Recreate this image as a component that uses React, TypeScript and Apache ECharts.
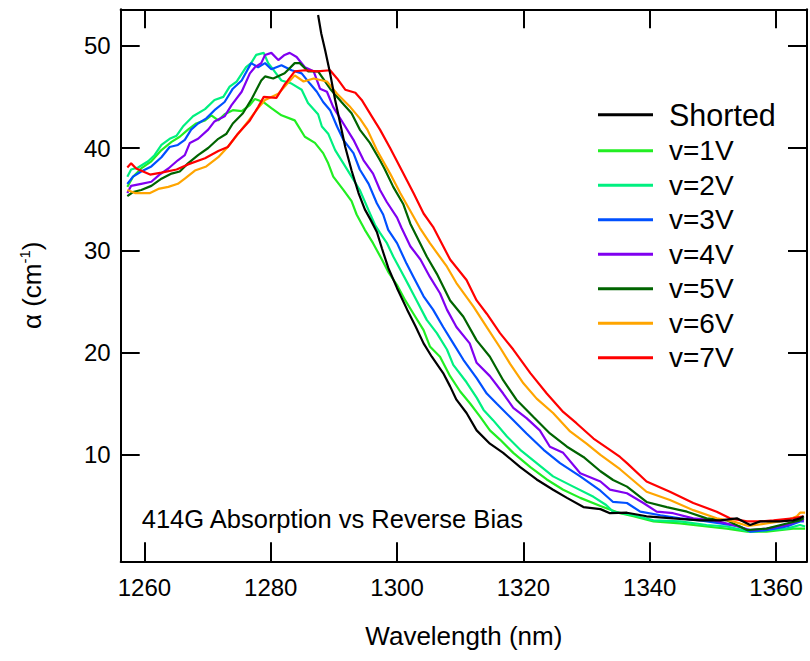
import React, { useEffect, useRef } from "react";
import * as echarts from "echarts";

const FONT = "'Liberation Sans', Arial, Helvetica, sans-serif";

const seriesNames = ["Shorted", "v=1V", "v=2V", "v=3V", "v=4V", "v=5V", "v=6V", "v=7V"];
const seriesColors = ["#000000", "#22ee22", "#00f080", "#0050ff", "#8000f0", "#006400", "#ffa500", "#ff0000"];

const xTicks = [1260, 1280, 1300, 1320, 1340, 1360];
const yTicks = [10, 20, 30, 40, 50];

const shorted: [number, number][] = [
  [1287.5, 53.0], [1288.0, 51.2], [1288.6, 49.6], [1289.4, 47.3], [1290.2, 44.7], [1291.0, 42.4],
  [1291.8, 40.1], [1292.8, 37.8], [1293.9, 35.6], [1294.9, 34.0], [1295.8, 33.0], [1296.8, 31.8],
  [1297.6, 30.2], [1298.6, 28.3], [1300.0, 26.3], [1301.6, 24.2], [1302.9, 22.6], [1304.2, 20.9],
  [1305.5, 19.6], [1307.3, 18.0], [1308.4, 16.7], [1309.4, 15.4], [1311.0, 14.1], [1312.6, 12.4],
  [1314.7, 11.1], [1316.8, 10.2], [1319.5, 8.8], [1322.1, 7.6], [1324.7, 6.6], [1326.9, 5.8],
  [1329.5, 4.9], [1332.2, 4.7], [1333.7, 4.3], [1336.4, 4.35], [1339.5, 4.0], [1343.7, 3.8],
  [1348.0, 3.6], [1351.2, 3.6], [1353.8, 3.8], [1354.8, 3.5], [1355.9, 3.15], [1357.5, 3.5],
  [1360.6, 3.5], [1362.7, 3.6], [1363.8, 3.8], [1364.4, 4.0],
];

const v1: [number, number][] = [
  [1257.3, 36.2], [1258.2, 37.2], [1259.5, 38.0], [1261.1, 38.7], [1262.7, 39.8], [1264.3, 40.6],
  [1265.6, 41.1], [1266.9, 41.8], [1268.2, 42.4], [1269.6, 42.7], [1270.6, 43.2], [1271.7, 42.7],
  [1272.7, 43.3], [1274.0, 43.7], [1275.4, 43.6], [1276.7, 44.2], [1277.5, 44.8], [1278.8, 44.5],
  [1280.1, 43.9], [1281.7, 43.2], [1283.8, 42.7], [1285.4, 41.1], [1287.0, 40.5], [1288.3, 39.5],
  [1289.1, 38.5], [1289.9, 37.2], [1291.5, 35.9], [1292.8, 34.8], [1293.6, 33.5], [1294.9, 32.0],
  [1296.2, 30.7], [1297.6, 29.1], [1298.6, 27.9], [1300.0, 26.6], [1301.3, 25.1], [1302.6, 23.8],
  [1304.2, 22.2], [1305.2, 20.6], [1306.8, 19.6], [1308.4, 17.7], [1310.0, 16.2], [1311.6, 15.0],
  [1313.2, 13.7], [1314.7, 12.4], [1316.3, 11.5], [1318.4, 10.2], [1321.1, 8.8], [1323.7, 7.6],
  [1326.3, 6.6], [1329.0, 5.8], [1332.2, 5.0], [1335.3, 4.3], [1337.4, 4.0], [1340.6, 3.5],
  [1344.8, 3.3], [1349.0, 3.0], [1352.2, 2.8], [1355.4, 2.5], [1358.5, 2.5], [1360.6, 2.65],
  [1362.7, 2.8], [1364.6, 2.8],
];

const v2: [number, number][] = [
  [1257.3, 37.2], [1257.9, 37.9], [1259.0, 38.1], [1260.6, 38.7], [1261.6, 39.3], [1262.7, 40.3],
  [1264.0, 40.9], [1265.1, 41.2], [1266.1, 42.1], [1267.7, 43.1], [1269.6, 43.8], [1271.1, 44.7],
  [1272.5, 45.0], [1273.5, 46.0], [1274.6, 46.5], [1276.1, 47.9], [1276.9, 48.3], [1277.7, 49.1],
  [1278.9, 49.3], [1279.6, 48.3], [1280.6, 47.5], [1281.7, 46.6], [1283.3, 46.3], [1284.9, 45.7],
  [1285.9, 44.4], [1287.5, 43.3], [1288.1, 42.1], [1289.1, 41.4], [1290.2, 39.8], [1291.5, 38.5],
  [1292.8, 37.2], [1294.1, 35.9], [1295.5, 33.9], [1296.5, 32.5], [1297.3, 31.7], [1298.4, 30.7],
  [1299.4, 29.4], [1300.7, 27.9], [1302.0, 26.4], [1303.1, 25.1], [1304.7, 23.2], [1306.3, 21.9],
  [1307.9, 20.3], [1308.9, 18.8], [1311.0, 17.1], [1312.6, 15.6], [1313.7, 14.4], [1315.2, 13.4],
  [1317.4, 11.8], [1319.5, 10.5], [1322.1, 9.2], [1324.7, 7.9], [1327.9, 6.9], [1331.1, 5.9],
  [1333.1, 5.1], [1334.2, 4.45], [1337.4, 4.1], [1340.6, 3.6], [1344.8, 3.5], [1349.0, 3.15],
  [1352.2, 3.0], [1355.9, 2.5], [1358.5, 2.65], [1361.7, 2.8], [1363.8, 3.15], [1364.6, 3.0],
];

const v3: [number, number][] = [
  [1257.3, 36.5], [1258.2, 37.2], [1259.5, 37.7], [1261.1, 38.2], [1262.7, 39.1], [1264.0, 40.1],
  [1265.3, 40.3], [1266.4, 40.8], [1267.4, 41.8], [1268.5, 42.4], [1269.8, 42.9], [1271.1, 43.7],
  [1272.7, 44.5], [1274.0, 45.8], [1275.4, 46.6], [1276.9, 48.3], [1278.0, 47.9], [1279.1, 48.3],
  [1280.1, 47.7], [1281.7, 48.1], [1283.3, 47.6], [1284.9, 47.3], [1286.2, 46.3], [1287.3, 45.5],
  [1288.3, 44.5], [1289.4, 43.7], [1290.5, 42.1], [1291.5, 40.8], [1293.1, 39.5], [1294.1, 37.9],
  [1295.5, 36.5], [1296.8, 34.6], [1297.8, 33.5], [1298.6, 32.0], [1300.0, 30.7], [1301.5, 28.7],
  [1302.6, 27.4], [1304.2, 25.5], [1305.7, 24.2], [1307.3, 22.5], [1308.9, 20.9], [1310.5, 19.3],
  [1312.6, 17.5], [1314.2, 16.0], [1315.8, 15.0], [1317.9, 13.7], [1320.5, 12.1], [1323.2, 10.5],
  [1325.8, 9.2], [1329.0, 7.9], [1332.2, 6.5], [1334.2, 5.4], [1336.4, 5.3], [1338.5, 4.45],
  [1341.7, 4.1], [1344.8, 3.8], [1348.0, 3.6], [1351.2, 3.3], [1354.3, 3.0], [1355.9, 2.5],
  [1358.5, 2.65], [1361.7, 3.0], [1363.8, 3.5], [1364.4, 3.5],
];

const v4: [number, number][] = [
  [1257.3, 35.6], [1257.9, 36.3], [1259.5, 36.5], [1261.1, 36.7], [1262.4, 37.4], [1263.8, 38.0],
  [1265.3, 38.8], [1266.4, 39.3], [1267.2, 40.5], [1268.5, 40.9], [1270.1, 41.8], [1271.1, 42.6],
  [1272.7, 43.1], [1273.8, 44.2], [1275.4, 45.5], [1276.7, 47.3], [1277.5, 47.9], [1278.5, 48.3],
  [1279.1, 49.1], [1280.1, 49.3], [1281.2, 48.6], [1282.2, 49.1], [1283.0, 49.3], [1284.1, 48.9],
  [1285.4, 47.9], [1286.8, 47.5], [1287.8, 45.8], [1288.9, 45.5], [1289.9, 44.0], [1291.5, 42.4],
  [1293.1, 40.8], [1294.7, 38.8], [1296.2, 37.5], [1297.3, 35.9], [1298.4, 34.7], [1300.0, 33.2],
  [1300.7, 32.2], [1302.1, 30.4], [1303.7, 29.1], [1305.2, 27.4], [1306.8, 25.8], [1307.9, 24.2],
  [1309.4, 22.5], [1311.5, 20.9], [1312.6, 19.0], [1314.7, 17.7], [1316.8, 16.0], [1318.4, 14.6],
  [1320.5, 13.6], [1322.6, 12.4], [1324.2, 10.8], [1326.3, 10.2], [1329.0, 8.2], [1332.2, 7.4],
  [1333.7, 6.6], [1336.4, 6.25], [1339.0, 5.3], [1341.1, 4.45], [1343.7, 4.3], [1346.9, 3.8],
  [1350.1, 3.6], [1353.2, 3.15], [1355.9, 2.65], [1358.5, 2.8], [1361.7, 3.15], [1363.8, 3.6],
  [1364.4, 3.6],
];

const v5: [number, number][] = [
  [1257.3, 35.3], [1258.2, 35.7], [1259.5, 35.9], [1261.1, 36.3], [1262.7, 37.0], [1264.3, 37.5],
  [1265.6, 37.7], [1266.9, 38.5], [1268.5, 39.3], [1270.1, 40.0], [1271.7, 40.9], [1273.0, 41.4],
  [1274.0, 42.4], [1275.6, 43.4], [1276.9, 44.7], [1278.5, 46.6], [1279.1, 47.0], [1280.4, 46.8],
  [1282.2, 47.3], [1283.8, 48.3], [1284.6, 48.3], [1285.9, 47.5], [1287.5, 47.5], [1289.4, 45.8],
  [1291.2, 44.5], [1292.8, 43.4], [1294.1, 41.8], [1295.7, 40.5], [1297.3, 38.8], [1298.0, 38.0],
  [1299.4, 36.2], [1301.0, 34.5], [1302.1, 32.6], [1304.7, 29.4], [1306.3, 27.7], [1308.4, 25.1],
  [1310.5, 23.5], [1312.6, 21.2], [1314.7, 19.6], [1316.8, 17.3], [1318.9, 15.4], [1321.6, 13.7],
  [1324.2, 12.1], [1326.9, 10.8], [1329.5, 9.8], [1332.2, 8.4], [1334.2, 7.55], [1336.4, 6.9],
  [1339.5, 5.4], [1342.7, 4.9], [1345.9, 4.45], [1349.0, 3.8], [1352.2, 3.6], [1355.4, 2.65],
  [1358.5, 2.8], [1361.7, 3.3], [1363.8, 3.6], [1364.4, 3.8],
];

const v6: [number, number][] = [
  [1257.3, 35.9], [1258.5, 35.6], [1260.9, 35.6], [1262.2, 36.0], [1263.8, 36.2], [1265.3, 36.5],
  [1266.4, 37.0], [1268.0, 37.8], [1269.8, 38.2], [1271.7, 39.1], [1273.2, 40.1], [1276.4, 42.6],
  [1278.0, 43.9], [1279.1, 44.7], [1281.2, 45.3], [1283.8, 47.1], [1285.2, 46.5], [1286.8, 46.8],
  [1288.9, 46.5], [1290.5, 45.3], [1292.6, 44.0], [1294.1, 42.9], [1295.3, 41.8], [1296.8, 39.8],
  [1298.9, 37.5], [1300.5, 35.6], [1302.6, 33.3], [1303.6, 32.2], [1305.2, 30.7], [1307.9, 28.4],
  [1309.4, 26.8], [1312.1, 24.5], [1314.2, 22.5], [1316.3, 20.5], [1317.9, 18.9], [1320.0, 17.0],
  [1322.1, 15.5], [1324.7, 14.1], [1327.4, 12.3], [1330.0, 11.1], [1332.2, 10.0], [1335.3, 8.6],
  [1339.5, 6.4], [1343.2, 5.6], [1346.9, 4.6], [1350.6, 3.8], [1353.2, 3.5], [1355.6, 3.05],
  [1358.5, 3.3], [1361.7, 3.6], [1363.3, 4.0], [1363.8, 4.35], [1364.6, 4.35],
];

const v7: [number, number][] = [
  [1257.3, 38.1], [1257.9, 38.5], [1258.7, 38.0], [1260.9, 37.4], [1262.7, 37.6], [1265.1, 37.9],
  [1266.9, 38.4], [1269.6, 39.0], [1271.7, 39.7], [1273.2, 40.1], [1274.8, 41.4], [1276.7, 42.7],
  [1278.0, 44.0], [1278.9, 45.0], [1280.9, 44.9], [1282.2, 46.2], [1283.8, 47.5], [1285.4, 47.6],
  [1287.3, 47.5], [1289.4, 47.6], [1290.5, 46.8], [1291.8, 45.7], [1293.4, 45.4], [1294.4, 44.7],
  [1296.0, 43.1], [1297.3, 41.8], [1298.9, 40.0], [1301.0, 37.5], [1302.6, 35.6], [1304.2, 33.6],
  [1305.7, 32.3], [1308.4, 29.1], [1311.0, 27.1], [1312.6, 25.1], [1314.2, 23.8], [1316.3, 21.9],
  [1318.4, 20.3], [1321.1, 18.0], [1323.7, 16.0], [1326.3, 14.2], [1328.4, 13.1], [1331.1, 11.6],
  [1333.7, 10.5], [1335.3, 9.8], [1336.4, 9.2], [1339.5, 7.4], [1343.2, 6.4], [1346.9, 5.3],
  [1350.6, 4.45], [1352.7, 3.8], [1355.4, 3.5], [1357.5, 3.5], [1359.6, 3.6], [1362.7, 3.8],
  [1364.3, 4.0],
];

const seriesData = [shorted, v1, v2, v3, v4, v5, v6, v7];

const X_MIN = 1256.25;
const X_MAX = 1364.9;
const Y_MIN = -0.4;
const Y_MAX = 53.56;

export default function App() {
  const ref = useRef<HTMLDivElement>(null);

  useEffect(() => {
    if (!ref.current) return;
    const chart = echarts.init(ref.current, null, { renderer: "svg" });

    const axisLine = { show: true, onZero: false, lineStyle: { color: "#000", width: 2 } };
    const tickStyle = { color: "#000", width: 2 };

    const option: any = {
      animation: false,
      backgroundColor: "#ffffff",
      grid: { left: 120.7, top: 9.3, right: 3, bottom: 99.7, containLabel: false },
      xAxis: [
        {
          type: "value",
          position: "bottom",
          min: X_MIN,
          max: X_MAX,
          axisLine,
          axisTick: { show: true, inside: true, length: 19, lineStyle: tickStyle, customValues: xTicks },
          axisLabel: {
            customValues: xTicks,
            formatter: (v: number) => String(v),
            margin: 14,
            fontSize: 24,
            color: "#000",
            fontFamily: FONT,
          },
          splitLine: { show: false },
          name: "Wavelength (nm)",
          nameLocation: "middle",
          nameGap: 62,
          nameTextStyle: { fontSize: 26, color: "#000", fontFamily: FONT },
        },
        {
          type: "value",
          position: "top",
          min: X_MIN,
          max: X_MAX,
          axisLine,
          axisTick: { show: true, inside: true, length: 19, lineStyle: tickStyle, customValues: xTicks },
          axisLabel: { show: false },
          splitLine: { show: false },
        },
      ],
      yAxis: [
        {
          type: "value",
          position: "left",
          min: Y_MIN,
          max: Y_MAX,
          axisLine,
          axisTick: { show: true, inside: true, length: 19, lineStyle: tickStyle, customValues: yTicks },
          axisLabel: {
            customValues: yTicks,
            formatter: (v: number) => String(v),
            margin: 10,
            fontSize: 24,
            color: "#000",
            fontFamily: FONT,
          },
          splitLine: { show: false },
          name: "{n|α (cm}{s|-1}{n|)}",
          nameLocation: "middle",
          nameRotate: 90,
          nameGap: 74,
          nameTextStyle: {
            color: "#000",
            fontFamily: FONT,
            fontSize: 26,
            rich: {
              n: { fontSize: 26, lineHeight: 30, fontFamily: FONT, color: "#000" },
              s: { fontSize: 15, lineHeight: 15, verticalAlign: "top", fontFamily: FONT, color: "#000" },
            },
          },
        },
        {
          type: "value",
          position: "right",
          min: Y_MIN,
          max: Y_MAX,
          axisLine,
          axisTick: { show: true, inside: true, length: 19, lineStyle: tickStyle, customValues: yTicks },
          axisLabel: { show: false },
          splitLine: { show: false },
        },
      ],
      legend: {
        orient: "vertical",
        left: 598,
        top: 99.3,
        padding: 0,
        itemWidth: 55,
        itemHeight: 3,
        itemGap: 6.5,
        icon: "rect",
        selectedMode: false,
        data: seriesNames,
        formatter: (name: string) => (name === "Shorted" ? "{big|" + name + "}" : "{sm|" + name + "}"),
        textStyle: {
          color: "#000",
          fontFamily: FONT,
          fontSize: 27,
          lineHeight: 28,
          padding: [0, 0, 0, 11],
          rich: {
            big: { fontSize: 30.5, lineHeight: 28, fontFamily: FONT, color: "#000" },
            sm: { fontSize: 28, lineHeight: 28, fontFamily: FONT, color: "#000" },
          },
        },
      },
      graphic: [
        {
          type: "text",
          x: 141.7,
          y: 519,
          style: {
            text: "414G Absorption vs Reverse Bias",
            fontSize: 25.5,
            fontFamily: FONT,
            fill: "#000",
            align: "left",
            verticalAlign: "middle",
          },
        },
      ],
      series: seriesNames.map((name, i) => ({
        name,
        type: "line",
        xAxisIndex: 0,
        yAxisIndex: 0,
        data: seriesData[i],
        showSymbol: false,
        symbol: "none",
        clip: true,
        color: seriesColors[i],
        itemStyle: { color: seriesColors[i] },
        lineStyle: { color: seriesColors[i], width: 2.2 },
        emphasis: { disabled: true },
        z: i === 0 ? 10 : 2,
      })),
    };

    chart.setOption(option);
    return () => {
      chart.dispose();
    };
  }, []);

  return (
    <div
      ref={ref}
      style={{ position: "fixed", left: 0, top: 0, width: 810, height: 661, background: "#fff" }}
    />
  );
}
